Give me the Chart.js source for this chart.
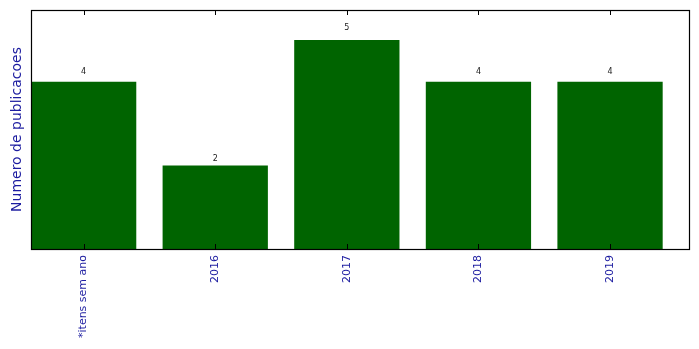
<!DOCTYPE html>
<html>
<head>
<meta charset="utf-8">
<script src="https://cdn.jsdelivr.net/npm/chart.js@4"></script>
<style>
  body { margin:0; background:#fff; }
  #wrap { width:699px; height:349px; }
</style>
</head>
<body>
<div id="wrap"><canvas id="c" width="699" height="349"></canvas></div>
<script>
// categories and counts
const CATEGORIES = ['*itens sem ano', '2016', '2017', '2018', '2019'];
const COUNTS = [4, 2, 5, 4, 4];
const Y_TITLE = 'Numero de publicacoes';

const BLUE = '#1c1ca0';
const GREEN = '#006400';

// frame, inward ticks, bar value labels, y title
const decor = {
  id: 'decor',
  afterDraw(chart) {
    const { ctx, chartArea: a, scales } = chart;
    ctx.save();
    ctx.strokeStyle = '#000';
    ctx.lineWidth = 1.2;
    ctx.strokeRect(a.left + 0.5, a.top + 0.5, a.right - a.left, a.bottom - a.top);
    ctx.lineWidth = 1;
    CATEGORIES.forEach((_, i) => {
      const x = Math.round(scales.x.getPixelForValue(i)) + 0.5;
      ctx.beginPath();
      ctx.moveTo(x, a.bottom); ctx.lineTo(x, a.bottom - 5);
      ctx.moveTo(x, a.top); ctx.lineTo(x, a.top + 5);
      ctx.stroke();
    });
    // value labels, baseline at 1.05 x the bar height
    const meta = chart.getDatasetMeta(0);
    ctx.fillStyle = '#222';
    ctx.font = '8px "DejaVu Sans"';
    ctx.textAlign = 'center';
    ctx.textBaseline = 'alphabetic';
    meta.data.forEach((bar, i) => {
      ctx.fillText(String(COUNTS[i]), bar.x, scales.y.getPixelForValue(COUNTS[i] * 1.05));
    });
    // y title
    ctx.translate(17, (a.top + a.bottom) / 2);
    ctx.rotate(-Math.PI / 2);
    ctx.fillStyle = BLUE;
    ctx.textBaseline = 'middle';
    ctx.font = '14px "DejaVu Sans"';
    ctx.fillText(Y_TITLE, 0, 0);
    ctx.restore();
  }
};

new Chart(document.getElementById('c'), {
  type: 'bar',
  data: {
    datasets: [{
      data: COUNTS.map((v, i) => ({ x: i, y: v })),
      backgroundColor: GREEN,
      borderWidth: 0,
      barPercentage: 0.8,
      categoryPercentage: 1
    }]
  },
  options: {
    responsive: false,
    animation: false,
    layout: { padding: { left: 31, top: 10, right: 10, bottom: 0 } },
    plugins: { legend: { display: false }, tooltip: { enabled: false } },
    scales: {
      x: {
        type: 'linear',
        min: -0.4,
        max: 4.6,
        offset: false,
        grid: { display: false, drawTicks: false },
        border: { display: false },
        afterBuildTicks: s => { s.ticks = CATEGORIES.map((_, i) => ({ value: i })); },
        afterFit: s => { s.height = 100; },
        ticks: {
          autoSkip: false,
          minRotation: 90,
          maxRotation: 90,
          padding: 6,
          color: BLUE,
          font: { family: 'DejaVu Sans', size: 11 },
          callback: v => CATEGORIES[v]
        }
      },
      y: {
        display: false,
        min: 0,
        max: 5.72
      }
    }
  },
  plugins: [decor]
});
</script>
</body>
</html>
